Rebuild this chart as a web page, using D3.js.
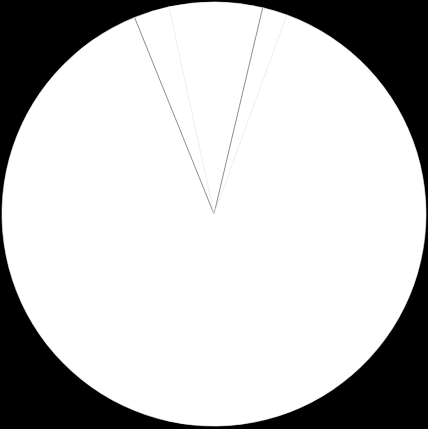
<!DOCTYPE html>
<html>
<head>
<meta charset="utf-8">
<script src="https://cdn.jsdelivr.net/npm/d3@7"></script>
<style>
  html, body { margin: 0; padding: 0; background: #000; }
  svg { display: block; }
</style>
</head>
<body>
<div id="chart"></div>
<script>
// slice values (percent), in drawing order starting at the top-left boundary
var categories = ["A", "B", "C", "D"];
var values = [2.7, 7.1, 1.9, 88.3];

var width = 428;
var height = 429;
var radius = 212;

var svg = d3.select("#chart")
    .append("svg")
    .attr("width", width)
    .attr("height", height)
    .style("background", "#000")
    .append("g")
    .attr("transform", "translate(214,214)");

var data = categories.map(function (c, i) {
    return { name: c, value: values[i] };
});

var pie = d3.pie()
    .sort(null)
    .startAngle(-22 * Math.PI / 180)
    .endAngle(338 * Math.PI / 180)
    .value(function (d) { return d.value; });

var arc = d3.arc()
    .innerRadius(0)
    .outerRadius(radius);

var arcs = pie(data);

svg.selectAll("path.slice")
    .data(arcs)
    .enter()
    .append("path")
    .attr("class", "slice")
    .attr("d", arc)
    .attr("fill", "#fff")
    .attr("stroke", "#fff")
    .attr("stroke-width", 0.6);

// boundary lines between the slices
svg.selectAll("line.edge")
    .data(arcs)
    .enter()
    .append("line")
    .attr("class", "edge")
    .attr("x1", 0)
    .attr("y1", 0)
    .attr("x2", function (d) { return d3.pointRadial(d.startAngle, radius)[0]; })
    .attr("y2", function (d) { return d3.pointRadial(d.startAngle, radius)[1]; })
    .attr("stroke", function (d, i) { return i % 2 === 0 ? "#777" : "#f0f0f0"; })
    .attr("stroke-width", 0.8);
</script>
</body>
</html>
